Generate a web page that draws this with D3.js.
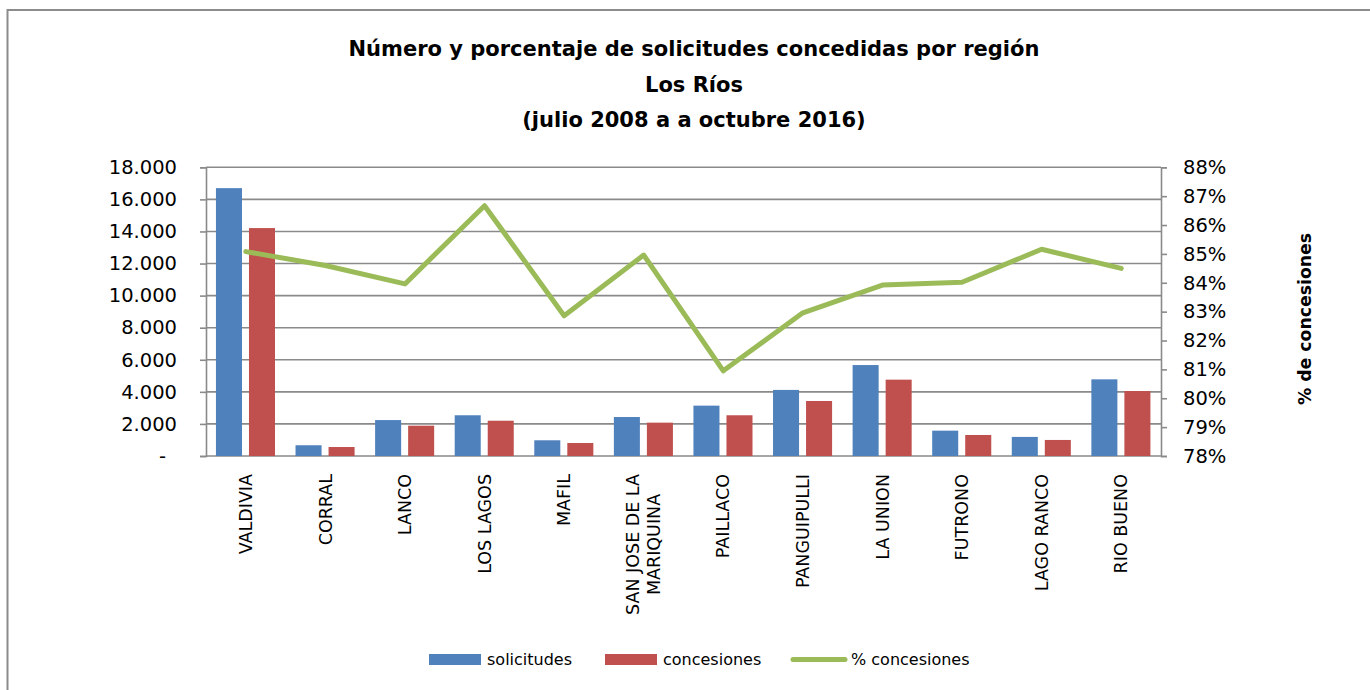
<!DOCTYPE html>
<html>
<head>
<meta charset="utf-8">
<script src="https://cdn.jsdelivr.net/npm/d3@7"></script>
<style>
  body { margin: 0; background: #fff; }
  svg { display: block; font-family: "DejaVu Sans", sans-serif; }
</style>
</head>
<body>
<script>
// data
const categories = ["VALDIVIA", "CORRAL", "LANCO", "LOS LAGOS", "MAFIL", "SAN JOSE DE LA\nMARIQUINA",
	"PAILLACO", "PANGUIPULLI", "LA UNION", "FUTRONO", "LAGO RANCO", "RIO BUENO"];
const solicitudes = [16700, 670, 2240, 2540, 980, 2430, 3140, 4120, 5670, 1580, 1190, 4780];
const concesiones = [14210, 560, 1890, 2200, 810, 2080, 2540, 3430, 4760, 1310, 1000, 4050];
const pctConcesiones = [85.08, 84.6, 83.96, 86.67, 82.86, 84.96, 80.95, 82.96, 83.92, 84.02, 85.16, 84.5];
const leftTicks = [0, 2000, 4000, 6000, 8000, 10000, 12000, 14000, 16000, 18000];
const rightTicks = [78, 79, 80, 81, 82, 83, 84, 85, 86, 87, 88];
const seriesNames = ["solicitudes", "concesiones", "% concesiones"];
const titleLines = ["Número y porcentaje de solicitudes concedidas por región", "Los Ríos", "(julio 2008 a a octubre 2016)"];
const rightTitle = "% de concesiones";

const W = 1370, H = 690;
const colors = { solicitudes: "#4F81BD", concesiones: "#C0504D", line: "#9BBB59" };
const gridColor = "#8a8a8a";
const plot = { left: 206, right: 1161, top: 167.3, bottom: 456 };

const svg = d3.select("body").append("svg")
	.attr("width", W)
	.attr("height", H);

// outer frame (runs off the bottom/right like the reference)
svg.append("rect")
	.attr("x", 7.5).attr("y", 10)
	.attr("width", W + 10).attr("height", H + 10)
	.attr("fill", "none")
	.attr("stroke", "#8c8c8c")
	.attr("stroke-width", 2);

// title
svg.append("text")
	.attr("text-anchor", "middle")
	.attr("font-weight", "bold")
	.attr("font-size", 21)
	.attr("fill", "#000")
	.selectAll("tspan")
	.data(titleLines)
	.join("tspan")
	.attr("x", 694)
	.attr("y", (d, i) => 56 + i * 35.5)
	.text(d => d);

const idx = categories.map((d, i) => i);
const x = d3.scaleBand().domain(idx).range([plot.left, plot.right]);
const x1 = d3.scaleBand().domain(["solicitudes", "concesiones"])
	.range([x.bandwidth() * 0.125, x.bandwidth() * 0.867])
	.paddingInner(0.212);
const yL = d3.scaleLinear().domain([0, 18000]).range([plot.bottom, plot.top]);
const yR = d3.scaleLinear().domain([78, 88]).range([plot.bottom, plot.top]);

const loc = d3.formatLocale({ decimal: ",", thousands: ".", grouping: [3], currency: ["$", ""] });
const fmtL = loc.format(",");

// gridlines
svg.append("g")
	.selectAll("line")
	.data(leftTicks.slice(1))
	.join("line")
	.attr("x1", plot.left).attr("x2", plot.right)
	.attr("y1", d => yL(d)).attr("y2", d => yL(d))
	.attr("stroke", gridColor)
	.attr("stroke-width", 1.6);

// left axis
const gL = svg.append("g")
	.attr("transform", `translate(${plot.left},0)`)
	.call(d3.axisLeft(yL).tickValues(leftTicks).tickSize(6).tickPadding(23)
		.tickFormat(d => d === 0 ? "-" : fmtL(d)));
gL.select(".domain").attr("stroke", gridColor).attr("stroke-width", 1.6);
gL.selectAll(".tick line").attr("stroke", gridColor).attr("stroke-width", 1.6);
gL.selectAll(".tick text").attr("font-size", 19.5).attr("font-family", "DejaVu Sans").attr("fill", "#000")
	.attr("dx", d => d === 0 ? -11 : 0);

// right axis
const gR = svg.append("g")
	.attr("transform", `translate(${plot.right},0)`)
	.call(d3.axisRight(yR).tickValues(rightTicks).tickSize(6).tickPadding(16)
		.tickFormat(d => d + "%"));
gR.select(".domain").attr("stroke", gridColor).attr("stroke-width", 1.6);
gR.selectAll(".tick line").attr("stroke", gridColor).attr("stroke-width", 1.6);
gR.selectAll(".tick text").attr("font-size", 19.5).attr("font-family", "DejaVu Sans").attr("fill", "#000");

// bottom axis line
svg.append("line")
	.attr("x1", plot.left).attr("x2", plot.right)
	.attr("y1", plot.bottom).attr("y2", plot.bottom)
	.attr("stroke", gridColor).attr("stroke-width", 1.6);

// bars
const barData = idx.flatMap(i => [
	{ i, key: "solicitudes", v: solicitudes[i] },
	{ i, key: "concesiones", v: concesiones[i] }
]);
svg.append("g")
	.selectAll("rect")
	.data(barData)
	.join("rect")
	.attr("x", d => x(d.i) + x1(d.key))
	.attr("y", d => yL(d.v))
	.attr("width", x1.bandwidth())
	.attr("height", d => plot.bottom - yL(d.v))
	.attr("fill", d => colors[d.key]);

// line
const line = d3.line()
	.x(i => x(i) + x.bandwidth() / 2)
	.y(i => yR(pctConcesiones[i]));
svg.append("path")
	.datum(idx)
	.attr("d", line)
	.attr("fill", "none")
	.attr("stroke", colors.line)
	.attr("stroke-width", 5)
	.attr("stroke-linejoin", "round")
	.attr("stroke-linecap", "round");

// category labels, rotated, multi-line centred on each other
const labels = svg.append("g")
	.selectAll("text")
	.data(idx)
	.join("text")
	.attr("text-anchor", "middle")
	.attr("font-size", 17.5)
	.attr("fill", "#000");
labels.each(function (i) {
	const lines = categories[i].split("\n");
	const t = d3.select(this);
	lines.forEach((s, k) => {
		t.append("tspan")
			.attr("x", 0)
			.attr("dy", k === 0 ? (0.35 - (lines.length - 1) * 0.6) + "em" : "1.2em")
			.text(s);
	});
	let maxLen = 0;
	t.selectAll("tspan").each(function () { maxLen = Math.max(maxLen, this.getComputedTextLength()); });
	t.attr("transform", `translate(${x(i) + x.bandwidth() / 2},${474 + maxLen / 2}) rotate(-90)`);
});

// right axis title
svg.append("text")
	.attr("transform", "translate(1305,319) rotate(-90)")
	.attr("text-anchor", "middle")
	.attr("dy", "0.35em")
	.attr("font-weight", "bold")
	.attr("font-size", 17.3)
	.attr("fill", "#000")
	.text(rightTitle);

// legend
const legendX = [429, 605, 791];
const lg = svg.append("g")
	.selectAll("g")
	.data(seriesNames)
	.join("g")
	.attr("transform", (d, i) => `translate(${legendX[i]},659.5)`);
lg.filter((d, i) => i < 2).append("rect")
	.attr("x", 0).attr("y", -5.5)
	.attr("width", 52).attr("height", 11)
	.attr("fill", (d, i) => i === 0 ? colors.solicitudes : colors.concesiones);
lg.filter((d, i) => i === 2).append("line")
	.attr("x1", 2).attr("x2", 54).attr("y1", 0).attr("y2", 0)
	.attr("stroke", colors.line)
	.attr("stroke-width", 5)
	.attr("stroke-linecap", "round");
lg.append("text")
	.attr("x", (d, i) => i === 2 ? 60 : 58)
	.attr("dy", "0.35em")
	.attr("font-size", 16)
	.attr("fill", "#000")
	.text(d => d);
</script>
</body>
</html>
